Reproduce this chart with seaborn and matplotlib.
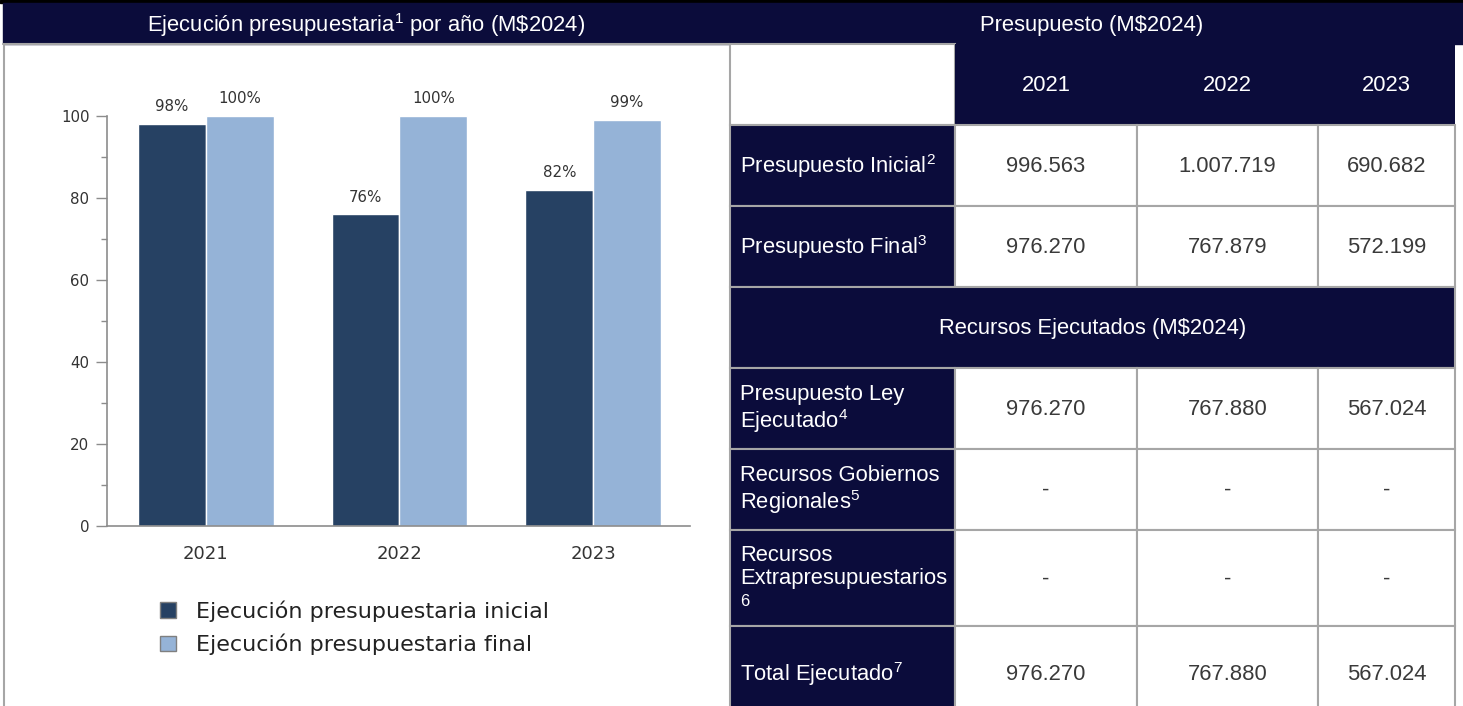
import matplotlib
matplotlib.use("Agg")
import pandas as pd
import matplotlib.pyplot as plt
import seaborn as sns
from matplotlib.patches import Rectangle, Patch

# datos del grafico
years = ["2021", "2022", "2023"]
ejec_inicial = [98, 76, 82]
ejec_final = [100, 100, 99]
serie_labels = ["Ejecución presupuestaria inicial", "Ejecución presupuestaria final"]

# datos de la tabla
presupuesto_inicial = ["996.563", "1.007.719", "690.682"]
presupuesto_final = ["976.270", "767.879", "572.199"]
ley_ejecutado = ["976.270", "767.880", "567.024"]
gob_regionales = ["-", "-", "-"]
extrapresupuestarios = ["-", "-", "-"]
total_ejecutado = ["976.270", "767.880", "567.024"]

NAVY = "#0b0c3b"
DARK = "#264163"
LIGHT = "#95b3d7"
GRID = "#a6a6a6"
TXT = "#3a3a3a"

sns.set_theme(style="white")
plt.rcParams["font.family"] = ["DejaVu Sans"]
plt.rcParams["mathtext.fontset"] = "custom"
plt.rcParams["mathtext.rm"] = "Liberation Sans"
plt.rcParams["mathtext.it"] = "Liberation Sans:italic"
plt.rcParams["mathtext.bf"] = "Liberation Sans:bold"

W, H = 1463, 706
fig = plt.figure(figsize=(W / 100, H / 100), dpi=100)

# capa de fondo en pixeles
bg = fig.add_axes([0, 0, 1, 1])
bg.set_xlim(0, W)
bg.set_ylim(H, 0)
bg.axis("off")

bg.add_patch(Rectangle((0, 0), W, 2.5, color="black"))
bg.add_patch(Rectangle((3, 2.5), W - 3, 41, color=NAVY))
bg.plot([3, 730], [44, 44], color=GRID, lw=1.5)
bg.plot([4, 4], [44, H], color=GRID, lw=1.5)

TF = "Liberation Sans"
FS = 15.8
bg.text(366, 25, "Ejecución presupuestaria$^{1}$ por año (M\\$2024)", color="white",
        fontsize=FS, family=TF, ha="center", va="center")
bg.text(1092, 25, "Presupuesto (M$2024)", color="white", fontsize=FS, family=TF,
        ha="center", va="center")

# tabla
col_x = [730, 955, 1137, 1318, 1455]
row_y = [44, 125, 206, 287, 368, 449, 530, 626, 720]

bg.add_patch(Rectangle((col_x[0], row_y[0]), col_x[1] - col_x[0], row_y[1] - row_y[0],
                       facecolor="white", edgecolor=GRID, lw=1.5))
bg.add_patch(Rectangle((col_x[1], row_y[0]), col_x[4] - col_x[1], row_y[1] - row_y[0],
                       facecolor=NAVY, edgecolor="none"))
for j, yr in enumerate(years):
    bg.text((col_x[j + 1] + col_x[j + 2]) / 2, (row_y[0] + row_y[1]) / 2 + 1, yr,
            color="white", fontsize=FS, family=TF, ha="center", va="center")

body = [
    ("Presupuesto Inicial$^{2}$", presupuesto_inicial),
    ("Presupuesto Final$^{3}$", presupuesto_final),
    ("Recursos Ejecutados (M$2024)", None),
    ("Presupuesto Ley\nEjecutado$^{4}$", ley_ejecutado),
    ("Recursos Gobiernos\nRegionales$^{5}$", gob_regionales),
    ("Recursos\nExtrapresupuestarios", extrapresupuestarios),
    ("Total Ejecutado$^{7}$", total_ejecutado),
]

for i, (label, vals) in enumerate(body):
    y0, y1 = row_y[i + 1], row_y[i + 2]
    yc = (y0 + y1) / 2 + 1
    if vals is None:
        bg.add_patch(Rectangle((col_x[0], y0), col_x[4] - col_x[0], y1 - y0,
                               facecolor=NAVY, edgecolor=GRID, lw=1.5))
        bg.text((col_x[0] + col_x[4]) / 2, yc, label, color="white", fontsize=FS,
                family=TF, ha="center", va="center")
        continue
    bg.add_patch(Rectangle((col_x[0], y0), col_x[1] - col_x[0], y1 - y0,
                           facecolor=NAVY, edgecolor=GRID, lw=1.5))
    ly = yc - 12 if "Extra" in label else yc
    bg.text(740, ly, label, color="white", fontsize=FS, family=TF, ha="left",
            va="center", linespacing=1.08)
    if "Extra" in label:
        bg.text(740, yc + 23, "6", color="white", fontsize=12, family=TF,
                ha="left", va="center")
    for j, v in enumerate(vals):
        bg.add_patch(Rectangle((col_x[j + 1], y0), col_x[j + 2] - col_x[j + 1], y1 - y0,
                               facecolor="white", edgecolor=GRID, lw=1.5))
        bg.text((col_x[j + 1] + col_x[j + 2]) / 2, yc, v, color=TXT, fontsize=FS,
                family=TF, ha="center", va="center")

# grafico de barras
ax = fig.add_axes([107 / W, (H - 526) / H, (690 - 107) / W, (526 - 116) / H])
ax.patch.set_alpha(0)
df = pd.DataFrame({
    "Año": years * 2,
    "Serie": [serie_labels[0]] * 3 + [serie_labels[1]] * 3,
    "Valor": ejec_inicial + ejec_final,
})
sns.barplot(data=df, x="Año", y="Valor", hue="Serie", palette=[DARK, LIGHT],
            width=0.7, edgecolor="white", linewidth=1, saturation=1,
            legend=False, ax=ax)
for c in ax.containers:
    ax.bar_label(c, fmt="{:.0f}%", padding=7, fontsize=10.8, color="#333333",
                 annotation_clip=False)

ax.set_ylim(0, 100)
ax.set_xlim(-0.51, 2.5)
ax.set_yticks(range(0, 101, 20))
ax.set_yticks(range(10, 100, 20), minor=True)
ax.tick_params(axis="y", which="major", left=True, length=7.7, width=1, color="#8c8c8c",
               labelsize=10.8, labelcolor="#333333", pad=5)
ax.tick_params(axis="y", which="minor", left=True, length=4.5, width=1, color="#8c8c8c")
ax.tick_params(axis="x", length=0, pad=14, labelsize=13, labelcolor="#333333")
for s in ["top", "right"]:
    ax.spines[s].set_visible(False)
for s in ["left", "bottom"]:
    ax.spines[s].set_color("#8c8c8c")
    ax.spines[s].set_linewidth(1.2)
ax.set_xlabel("")
ax.set_ylabel("")
ax.grid(False)

handles = [Patch(facecolor=DARK, edgecolor="#7f7f7f", lw=1),
           Patch(facecolor=LIGHT, edgecolor="#7f7f7f", lw=1)]
fig.legend(handles, serie_labels, loc="upper left", bbox_to_anchor=(160 / W, (H - 600) / H),
           frameon=False, fontsize=16, handlelength=0.7, handleheight=0.7,
           handletextpad=0.9, labelspacing=0.56, borderpad=0, borderaxespad=0,
           labelcolor="#222222")

fig.savefig("out.png", dpi=100)
